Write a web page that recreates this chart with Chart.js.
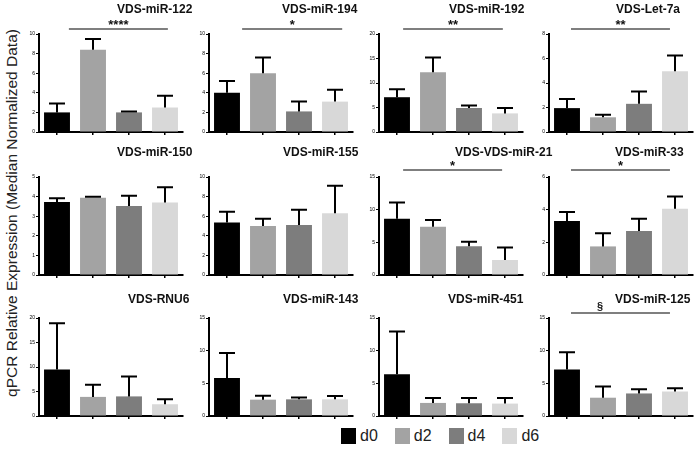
<!DOCTYPE html>
<html>
<head>
<meta charset="utf-8">
<script src="https://cdn.jsdelivr.net/npm/chart.js@4"></script>
<style>
    body {
        margin: 0;
        background: #fff;
        width: 700px;
        height: 453px;
        overflow: hidden;
        position: relative;
        font-family: "Liberation Sans", Arial, sans-serif;
    }
    canvas.panel { position: absolute; }
    #ylabel {
        position: absolute;
        left: 12px;
        top: 213px;
        transform: translate(-50%, -50%) rotate(-90deg);
        white-space: nowrap;
        font-size: 15.5px;
        color: #222;
    }
    #legend {
        position: absolute;
        left: 341px;
        top: 427px;
        display: flex;
        font-size: 16px;
        color: #222;
    }
    .item { display: flex; align-items: center; margin-right: 17px; }
    .box { width: 15px; height: 16px; margin-right: 4px; }
</style>
</head>
<body>
<div id="ylabel">qPCR Relative Expression (Median Normalized Data)</div>
<div id="legend"></div>

<script>
// Dados
const groups = ['d0', 'd2', 'd4', 'd6'];
const groupColors = ['#000000', '#a3a3a3', '#7d7d7d', '#d8d8d8'];

const titles = [
    'VDS-miR-122', 'VDS-miR-194', 'VDS-miR-192', 'VDS-Let-7a',
    'VDS-miR-150', 'VDS-miR-155', 'VDS-VDS-miR-21', 'VDS-miR-33',
    'VDS-RNU6', 'VDS-miR-143', 'VDS-miR-451', 'VDS-miR-125'
];

const means = [
    [2.0, 8.4, 2.0, 2.5],
    [4.0, 6.0, 2.1, 3.1],
    [7.1, 12.2, 4.9, 3.8],
    [1.95, 1.2, 2.3, 4.95],
    [3.72, 3.94, 3.52, 3.7],
    [5.35, 5.0, 5.1, 6.3],
    [8.6, 7.4, 4.4, 2.3],
    [3.3, 1.75, 2.7, 4.05],
    [9.5, 3.9, 4.0, 2.4],
    [5.8, 2.5, 2.55, 2.55],
    [6.4, 2.0, 1.95, 1.9],
    [7.1, 2.8, 3.45, 3.75]
];

const errors = [
    [0.9, 1.1, 0.1, 1.2],
    [1.2, 1.6, 1.0, 1.2],
    [1.6, 3.0, 0.5, 1.1],
    [0.75, 0.2, 1.0, 1.3],
    [0.2, 0.05, 0.52, 0.78],
    [1.1, 0.75, 1.55, 2.8],
    [2.5, 1.0, 0.7, 1.9],
    [0.55, 0.8, 0.75, 0.75],
    [9.45, 2.5, 4.05, 1.0],
    [3.85, 0.6, 0.3, 0.5],
    [6.55, 0.75, 0.8, 0.85],
    [2.65, 1.7, 0.65, 0.5]
];

const yMax = [10, 10, 20, 8, 5, 10, 15, 6, 20, 15, 15, 15];
const yStep = [2, 2, 5, 2, 1, 2, 5, 2, 5, 5, 5, 5];

// significancia: texto e intervalo (em unidades de categoria)
const sigLabels = ['****', '*', '**', '**', '', '', '*', '*', '', '', '', '§'];
const sigFrom = [0.33, 0.42, 0.17, 0.11, 0, 0, 0.17, 0.11, 0, 0, 0, 0.11];
const sigTo = [3.08, 3.2, 2.94, 2.86, 0, 0, 2.92, 2.86, 0, 0, 0, 2.86];
// posicao do texto (null = centro da linha)
const sigTextAt = [null, null, null, null, null, null, null, null, null, null, null, 0.92];

// layout
const rowTops = [0, 143, 284];
const titleBase = [13, 13, 19];
const sigGap = [5, 7, 5];
const titleLeft = [117, 112, 109, 106, 117, 113, 115, 105, 128, 113, 108, 105];

// legenda
const legend = document.getElementById('legend');
groups.forEach((g, i) => {
    const item = document.createElement('div');
    item.className = 'item';
    item.innerHTML = '<span class="box" style="background:' + groupColors[i] + '"></span>' + g;
    legend.appendChild(item);
});

// barras de erro, titulo e linha de significancia
const panelDecor = {
    id: 'panelDecor',
    afterDatasetsDraw(chart) {
        const ctx = chart.ctx;
        const y = chart.scales.y;
        const ds = chart.data.datasets[0];
        const meta = chart.getDatasetMeta(0);
        ctx.save();
        ctx.strokeStyle = '#000';
        ctx.lineWidth = 2;
        meta.data.forEach((bar, i) => {
            const top = y.getPixelForValue(ds.data[i] + ds.errors[i]);
            ctx.beginPath();
            ctx.moveTo(bar.x, bar.y);
            ctx.lineTo(bar.x, top);
            ctx.moveTo(bar.x - 8, top);
            ctx.lineTo(bar.x + 8, top);
            ctx.stroke();
        });
        ctx.restore();
    },
    afterDraw(chart, args, opts) {
        const ctx = chart.ctx;
        const area = chart.chartArea;
        const x = chart.scales.x;
        ctx.save();
        ctx.fillStyle = '#111';
        ctx.font = 'bold 12px "Liberation Sans", Arial, sans-serif';
        ctx.textAlign = 'left';
        ctx.textBaseline = 'alphabetic';
        ctx.fillText(opts.title, opts.titleX, opts.titleY);

        if (opts.sig) {
            const x1 = x.getPixelForValue(opts.from);
            const x2 = x.getPixelForValue(opts.to);
            const ly = area.top - opts.gap;
            ctx.strokeStyle = '#000';
            ctx.lineWidth = 1.2;
            ctx.beginPath();
            ctx.moveTo(x1, ly);
            ctx.lineTo(x2, ly);
            ctx.stroke();
            ctx.textAlign = 'center';
            const tx = opts.textAt === null ? (x1 + x2) / 2 : x.getPixelForValue(opts.textAt);
            if (opts.sig === '§') {
                ctx.font = 'bold 11px "Liberation Sans", Arial';
                ctx.fillText(opts.sig, tx, ly - 3);
            } else {
                ctx.font = 'bold 13px "Liberation Sans", Arial';
                ctx.fillText(opts.sig, tx, ly);
            }
        }
        ctx.restore();
    }
};

titles.forEach((title, i) => {
    const row = Math.floor(i / 4);
    const col = i % 4;
    const canvas = document.createElement('canvas');
    canvas.className = 'panel';
    canvas.width = 215;
    canvas.height = 142;
    canvas.style.left = (col * 170) + 'px';
    canvas.style.top = rowTops[row] + 'px';
    document.body.appendChild(canvas);

    new Chart(canvas, {
        type: 'bar',
        data: {
            labels: groups,
            datasets: [{
                data: means[i],
                errors: errors[i],
                backgroundColor: groupColors,
                borderWidth: 0,
                barPercentage: 0.72,
                categoryPercentage: 1
            }]
        },
        plugins: [panelDecor],
        options: {
            responsive: false,
            animation: false,
            events: [],
            layout: { padding: { top: 34, right: 32, left: 0, bottom: 0 } },
            plugins: {
                legend: { display: false },
                tooltip: { enabled: false },
                panelDecor: {
                    title: title,
                    titleX: titleLeft[i],
                    titleY: titleBase[row],
                    sig: sigLabels[i],
                    from: sigFrom[i],
                    to: sigTo[i],
                    textAt: sigTextAt[i],
                    gap: sigGap[row]
                }
            },
            scales: {
                x: {
                    grid: {
                        offset: false,
                        drawOnChartArea: false,
                        color: '#000',
                        lineWidth: 1.5,
                        tickLength: 3
                    },
                    border: { color: '#000', width: 2 },
                    ticks: { display: false },
                    afterFit(scale) { scale.height = 10; }
                },
                y: {
                    min: 0,
                    max: yMax[i],
                    ticks: {
                        stepSize: yStep[i],
                        font: { size: 5, family: '"Liberation Sans", Arial' },
                        color: '#000',
                        padding: 1
                    },
                    grid: {
                        drawOnChartArea: false,
                        color: '#000',
                        tickLength: 3
                    },
                    border: { color: '#000', width: 2 },
                    afterFit(scale) { scale.width = 39; }
                }
            }
        }
    });
});
</script>
</body>
</html>
